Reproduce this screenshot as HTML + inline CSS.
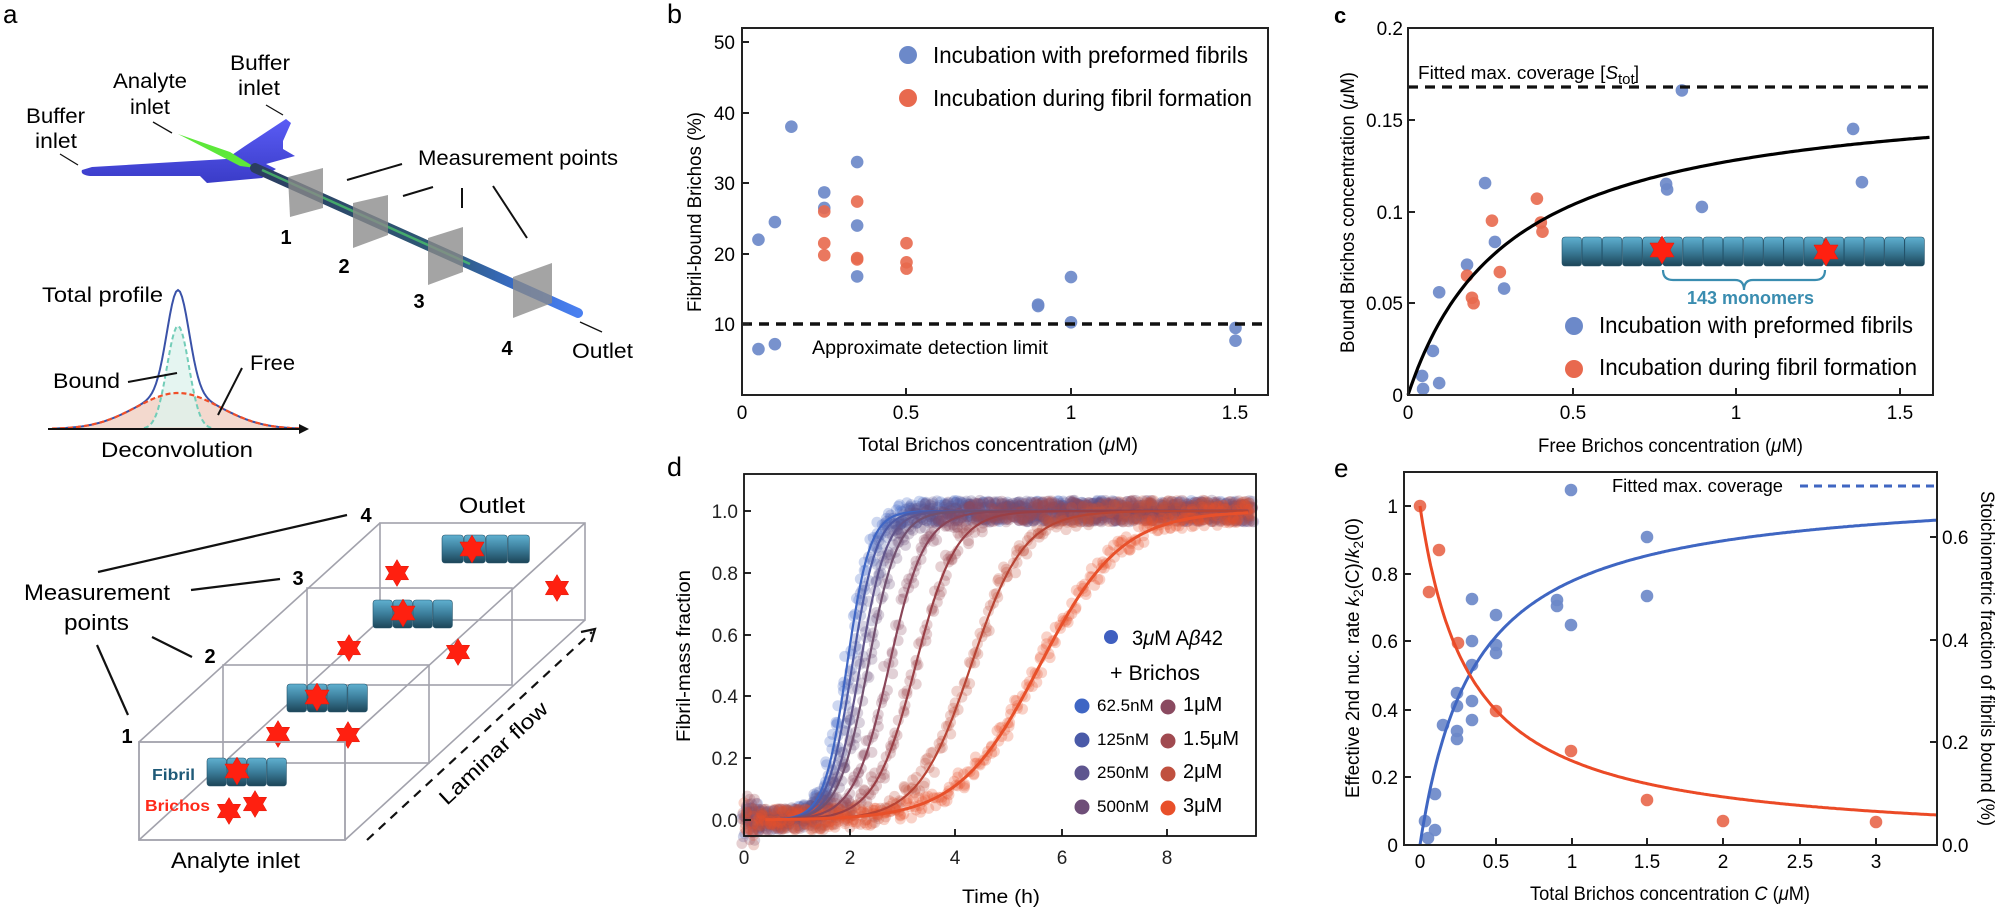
<!DOCTYPE html>
<html><head><meta charset="utf-8"><style>
html,body{margin:0;padding:0;background:#fff;}
svg{display:block;font-family:"Liberation Sans",Arial,sans-serif;}
</style></head><body>
<svg id="s" width="2000" height="913" viewBox="0 0 2000 913" xmlns="http://www.w3.org/2000/svg">
<defs>
<linearGradient id="fib" x1="0" y1="0" x2="0" y2="1"><stop offset="0" stop-color="#5fb0d0"/><stop offset="0.5" stop-color="#3b7d9a"/><stop offset="1" stop-color="#1d4558"/></linearGradient>
<linearGradient id="chip" x1="0" y1="0" x2="0" y2="1"><stop offset="0" stop-color="#5a5cf5"/><stop offset="1" stop-color="#3a3cc8"/></linearGradient>
<linearGradient id="tube" x1="0" y1="0" x2="1" y2="0"><stop offset="0" stop-color="#2b3d60"/><stop offset="0.6" stop-color="#2f5a78"/><stop offset="0.85" stop-color="#3a70d8"/><stop offset="1" stop-color="#4a80f0"/></linearGradient>
</defs>
<rect width="2000" height="913" fill="#fff"/>

<!-- ===== Panel a ===== -->
<text x="3" y="23" font-size="26">a</text>
<path d="M82,170 Q80,175 90,176 L200,176 L207,183 L262,178 L276,169 L266,164 L295,156 L283,149 L283,141 L291,123 L286,119 L245,146 L226,159 L92,167 Z" fill="url(#chip)"/>
<path d="M178,134 L230,152 L256,168 L240,166 Z" fill="#5de83a"/>
<line x1="255" y1="168" x2="578" y2="313" stroke="url(#tube)" stroke-width="10" stroke-linecap="round"/>
<line x1="262" y1="170" x2="470" y2="264" stroke="#4fd06a" stroke-width="2.5" opacity="0.7"/>
<g fill="#8a8a8a" opacity="0.78">
<polygon points="288,177 323,168 323,208 290,217"/>
<polygon points="353,203 388,195 388,235 353,248"/>
<polygon points="428,238 463,227 463,272 428,285"/>
<polygon points="513,277 552,263 552,303 513,318"/>
</g>
<g font-weight="bold" font-size="20" text-anchor="middle">
<text x="286" y="244">1</text><text x="344" y="273">2</text><text x="419" y="308">3</text><text x="507" y="355">4</text>
</g>
<g font-size="21">
<text x="26" y="123" textLength="59" lengthAdjust="spacingAndGlyphs">Buffer</text>
<text x="35" y="148" textLength="42" lengthAdjust="spacingAndGlyphs">inlet</text>
<text x="113" y="88" textLength="74" lengthAdjust="spacingAndGlyphs">Analyte</text>
<text x="130" y="114" textLength="40" lengthAdjust="spacingAndGlyphs">inlet</text>
<text x="230" y="70" textLength="60" lengthAdjust="spacingAndGlyphs">Buffer</text>
<text x="238" y="95" textLength="42" lengthAdjust="spacingAndGlyphs">inlet</text>
<text x="418" y="165" textLength="200" lengthAdjust="spacingAndGlyphs">Measurement points</text>
<text x="572" y="358" textLength="61" lengthAdjust="spacingAndGlyphs">Outlet</text>
</g>
<g stroke="#111" stroke-width="1.3" fill="none">
<line x1="60" y1="154" x2="78" y2="165"/><line x1="153" y1="122" x2="172" y2="133"/><line x1="266" y1="105" x2="283" y2="115"/><line x1="580" y1="322" x2="602" y2="332"/>
</g>
<g stroke="#111" stroke-width="2" fill="none">
<line x1="347" y1="180" x2="402" y2="164"/><line x1="403" y1="196" x2="433" y2="187"/><line x1="462" y1="208" x2="462" y2="188"/><line x1="493" y1="186" x2="527" y2="238"/>
</g>
<path id="freeFill" fill="#f2d5c9" opacity="0.9"/>
<path id="boundFill" fill="#dff3ee" opacity="0.8"/>
<path id="boundLine" fill="none" stroke="#72cdb8" stroke-width="2" stroke-dasharray="5,3"/>
<path id="totLine" fill="none" stroke="#3a52a8" stroke-width="2"/>
<path id="freeLine" fill="none" stroke="#f04e28" stroke-width="2.2" stroke-dasharray="5,3"/>
<line x1="48" y1="429" x2="302" y2="429" stroke="#111" stroke-width="2"/>
<polygon points="309,429 299,424 299,434" fill="#111"/>
<g font-size="21">
<text x="42" y="302" textLength="121" lengthAdjust="spacingAndGlyphs">Total profile</text>
<text x="53" y="388" textLength="67" lengthAdjust="spacingAndGlyphs">Bound</text>
<text x="250" y="370" textLength="45" lengthAdjust="spacingAndGlyphs">Free</text>
<text x="101" y="457" textLength="152" lengthAdjust="spacingAndGlyphs">Deconvolution</text>
</g>
<line x1="128" y1="382" x2="177" y2="373" stroke="#111" stroke-width="2"/>
<line x1="242" y1="368" x2="218" y2="415" stroke="#111" stroke-width="2"/>
<g stroke="#a2a2ac" stroke-width="1.6" fill="none">
<line x1="139" y1="742" x2="380" y2="523"/><line x1="345" y1="742" x2="585" y2="523"/>
<line x1="139" y1="840" x2="380" y2="620"/><line x1="345" y1="840" x2="585" y2="620"/>
<rect x="380" y="523" width="205" height="97"/>
<rect x="307" y="588" width="205" height="97"/>
<rect x="223" y="665" width="206" height="98"/>
</g>
<g id="fibs"></g>
<g id="stars"></g>
<rect x="139" y="742" width="206" height="98" stroke="#a2a2ac" stroke-width="1.8" fill="none"/>
<line x1="367" y1="840" x2="592" y2="632" stroke="#111" stroke-width="2.2" stroke-dasharray="9,7"/>
<polyline points="581,632 595,629 591,642" fill="none" stroke="#111" stroke-width="2.2"/>
<text transform="translate(447,806) rotate(-43)" font-size="21" textLength="140" lengthAdjust="spacingAndGlyphs">Laminar flow</text>
<text x="152" y="780" font-size="16" font-weight="bold" fill="#1f5a78" textLength="43" lengthAdjust="spacingAndGlyphs">Fibril</text>
<text x="145" y="811" font-size="16" font-weight="bold" fill="#ff2a1a" textLength="65" lengthAdjust="spacingAndGlyphs">Brichos</text>
<g font-size="22">
<text x="171" y="868" textLength="129" lengthAdjust="spacingAndGlyphs">Analyte inlet</text>
<text x="24" y="600" textLength="146" lengthAdjust="spacingAndGlyphs">Measurement</text>
<text x="64" y="630" textLength="65" lengthAdjust="spacingAndGlyphs">points</text>
<text x="459" y="513" textLength="66" lengthAdjust="spacingAndGlyphs">Outlet</text>
</g>
<g font-weight="bold" font-size="20" text-anchor="middle">
<text x="366" y="522">4</text><text x="298" y="585">3</text><text x="210" y="663">2</text><text x="127" y="743">1</text>
</g>
<g stroke="#111" stroke-width="2.2">
<line x1="98" y1="572" x2="347" y2="515"/><line x1="191" y1="590" x2="280" y2="579"/><line x1="152" y1="637" x2="192" y2="657"/><line x1="97" y1="645" x2="128" y2="715"/>
</g>

<!-- ===== Panel b ===== -->
<text x="667" y="23" font-size="27">b</text>
<g id="bpts"></g>
<line x1="742" y1="324" x2="1268" y2="324" stroke="#111" stroke-width="3.5" stroke-dasharray="10,7"/>
<rect x="742" y="28" width="526" height="367" fill="none" stroke="#222" stroke-width="2"/>
<g stroke="#222" stroke-width="2">
<line x1="742" y1="42" x2="749" y2="42"/><line x1="742" y1="113" x2="749" y2="113"/><line x1="742" y1="183" x2="749" y2="183"/><line x1="742" y1="254" x2="749" y2="254"/><line x1="742" y1="324" x2="749" y2="324"/>
<line x1="906" y1="395" x2="906" y2="388"/><line x1="1071" y1="395" x2="1071" y2="388"/><line x1="1235" y1="395" x2="1235" y2="388"/>
</g>
<g font-size="19" text-anchor="end">
<text x="735" y="49">50</text><text x="735" y="120">40</text><text x="735" y="190">30</text><text x="735" y="261">20</text><text x="735" y="331">10</text>
</g>
<g font-size="19" text-anchor="middle">
<text x="742" y="419">0</text><text x="906" y="419">0.5</text><text x="1071" y="419">1</text><text x="1235" y="419">1.5</text>
</g>
<text x="812" y="354" font-size="19" textLength="236" lengthAdjust="spacingAndGlyphs">Approximate detection limit</text>
<text x="858" y="451" font-size="19" textLength="280" lengthAdjust="spacingAndGlyphs">Total Brichos concentration (<tspan font-style="italic">μ</tspan>M)</text>
<text transform="translate(701,312) rotate(-90)" font-size="19" textLength="200" lengthAdjust="spacingAndGlyphs">Fibril-bound Brichos (%)</text>
<circle cx="908" cy="55" r="9" fill="#6c89c9"/><circle cx="908" cy="98" r="9" fill="#e8694e"/>
<text x="933" y="63" font-size="23" textLength="315" lengthAdjust="spacingAndGlyphs">Incubation with preformed fibrils</text>
<text x="933" y="106" font-size="23" textLength="319" lengthAdjust="spacingAndGlyphs">Incubation during fibril formation</text>

<!-- ===== Panel c ===== -->
<text x="1334" y="23" font-size="22" font-weight="bold">c</text>
<g id="cpts"></g>
<path id="ccurve" fill="none" stroke="#000" stroke-width="3.2"/>
<line x1="1408" y1="87" x2="1933" y2="87" stroke="#111" stroke-width="3.2" stroke-dasharray="10,7"/>
<text x="1418" y="79" font-size="18" textLength="200" lengthAdjust="spacingAndGlyphs">Fitted max. coverage [<tspan font-style="italic">S</tspan></text>
<text x="1618" y="84" font-size="15">tot</text><text x="1634" y="79" font-size="18">]</text>
<rect x="1408" y="28" width="525" height="367" fill="none" stroke="#222" stroke-width="2"/>
<g stroke="#222" stroke-width="2">
<line x1="1408" y1="120" x2="1415" y2="120"/><line x1="1408" y1="212" x2="1415" y2="212"/><line x1="1408" y1="303" x2="1415" y2="303"/>
<line x1="1573" y1="395" x2="1573" y2="388"/><line x1="1736" y1="395" x2="1736" y2="388"/><line x1="1900" y1="395" x2="1900" y2="388"/>
</g>
<g font-size="19" text-anchor="end">
<text x="1403" y="35">0.2</text><text x="1403" y="127">0.15</text><text x="1403" y="219">0.1</text><text x="1403" y="310">0.05</text><text x="1403" y="402">0</text>
</g>
<g font-size="19" text-anchor="middle">
<text x="1408" y="419">0</text><text x="1573" y="419">0.5</text><text x="1736" y="419">1</text><text x="1900" y="419">1.5</text>
</g>
<text x="1538" y="452" font-size="19" textLength="265" lengthAdjust="spacingAndGlyphs">Free Brichos concentration (<tspan font-style="italic">μ</tspan>M)</text>
<text transform="translate(1354,353) rotate(-90)" font-size="19" textLength="281" lengthAdjust="spacingAndGlyphs">Bound Brichos concentration (<tspan font-style="italic">μ</tspan>M)</text>
<g id="cfib"></g>
<path d="M1663,270 Q1663,280 1673,280 L1735,280 Q1744,280 1744,290 Q1744,280 1753,280 L1815,280 Q1825,280 1825,270" fill="none" stroke="#3a8db0" stroke-width="2.2"/>
<text x="1687" y="304" font-size="18" font-weight="bold" fill="#3a8db0" textLength="127" lengthAdjust="spacingAndGlyphs">143 monomers</text>
<circle cx="1574" cy="326" r="9" fill="#6c89c9"/><circle cx="1574" cy="369" r="9" fill="#e8694e"/>
<text x="1599" y="333" font-size="23" textLength="314" lengthAdjust="spacingAndGlyphs">Incubation with preformed fibrils</text>
<text x="1599" y="375" font-size="23" textLength="318" lengthAdjust="spacingAndGlyphs">Incubation during fibril formation</text>

<!-- ===== Panel d ===== -->
<text x="667" y="476" font-size="27">d</text>
<g id="dpts"></g>
<g id="dlines"></g>
<rect x="744" y="474" width="512" height="362" fill="none" stroke="#111" stroke-width="1.8"/>
<g stroke="#111" stroke-width="1.8">
<line x1="744" y1="511" x2="751" y2="511"/><line x1="744" y1="573" x2="751" y2="573"/><line x1="744" y1="635" x2="751" y2="635"/><line x1="744" y1="696" x2="751" y2="696"/><line x1="744" y1="758" x2="751" y2="758"/><line x1="744" y1="820" x2="751" y2="820"/>
<line x1="850" y1="836" x2="850" y2="829"/><line x1="955" y1="836" x2="955" y2="829"/><line x1="1062" y1="836" x2="1062" y2="829"/><line x1="1167" y1="836" x2="1167" y2="829"/>
</g>
<g font-size="19" text-anchor="end" fill="#222">
<text x="738" y="518">1.0</text><text x="738" y="580">0.8</text><text x="738" y="642">0.6</text><text x="738" y="703">0.4</text><text x="738" y="765">0.2</text><text x="738" y="827">0.0</text>
</g>
<g font-size="19" text-anchor="middle" fill="#222">
<text x="744" y="864">0</text><text x="850" y="864">2</text><text x="955" y="864">4</text><text x="1062" y="864">6</text><text x="1167" y="864">8</text>
</g>
<text x="962" y="903" font-size="19" textLength="78" lengthAdjust="spacingAndGlyphs">Time (h)</text>
<text transform="translate(690,742) rotate(-90)" font-size="19" textLength="172" lengthAdjust="spacingAndGlyphs">Fibril-mass fraction</text>
<circle cx="1111" cy="637" r="7" fill="#3f5fc0"/>
<text x="1132" y="645" font-size="21" textLength="91" lengthAdjust="spacingAndGlyphs">3<tspan font-style="italic">μ</tspan>M A<tspan font-style="italic">β</tspan>42</text>
<text x="1110" y="680" font-size="21" textLength="90" lengthAdjust="spacingAndGlyphs">+ Brichos</text>
<g id="dleg" font-size="17"></g>

<!-- ===== Panel e ===== -->
<text x="1334" y="477" font-size="26">e</text>
<g id="epts"></g>
<path id="eblue" fill="none" stroke="#3f66c2" stroke-width="3"/>
<path id="ered" fill="none" stroke="#eb4a26" stroke-width="3"/>
<text x="1612" y="492" font-size="18" textLength="171" lengthAdjust="spacingAndGlyphs">Fitted max. coverage</text>
<line x1="1800" y1="486" x2="1937" y2="486" stroke="#3f66c2" stroke-width="3" stroke-dasharray="8,6"/>
<rect x="1404" y="472" width="533" height="373" fill="none" stroke="#222" stroke-width="2"/>
<g stroke="#222" stroke-width="2">
<line x1="1404" y1="506" x2="1411" y2="506"/><line x1="1404" y1="574" x2="1411" y2="574"/><line x1="1404" y1="641" x2="1411" y2="641"/><line x1="1404" y1="710" x2="1411" y2="710"/><line x1="1404" y1="777" x2="1411" y2="777"/>
<line x1="1496" y1="845" x2="1496" y2="838"/><line x1="1572" y1="845" x2="1572" y2="838"/><line x1="1647" y1="845" x2="1647" y2="838"/><line x1="1723" y1="845" x2="1723" y2="838"/><line x1="1800" y1="845" x2="1800" y2="838"/><line x1="1876" y1="845" x2="1876" y2="838"/>
<line x1="1930" y1="742" x2="1937" y2="742"/><line x1="1930" y1="640" x2="1937" y2="640"/><line x1="1930" y1="537" x2="1937" y2="537"/>
</g>
<g font-size="19" text-anchor="end">
<text x="1398" y="513">1</text><text x="1398" y="581">0.8</text><text x="1398" y="648">0.6</text><text x="1398" y="717">0.4</text><text x="1398" y="784">0.2</text><text x="1398" y="852">0</text>
</g>
<g font-size="19" text-anchor="middle">
<text x="1420" y="868">0</text><text x="1496" y="868">0.5</text><text x="1572" y="868">1</text><text x="1647" y="868">1.5</text><text x="1723" y="868">2</text><text x="1800" y="868">2.5</text><text x="1876" y="868">3</text>
</g>
<g font-size="19">
<text x="1942" y="852">0.0</text><text x="1942" y="749">0.2</text><text x="1942" y="647">0.4</text><text x="1942" y="544">0.6</text>
</g>
<text x="1530" y="900" font-size="19" textLength="280" lengthAdjust="spacingAndGlyphs">Total Brichos concentration <tspan font-style="italic">C</tspan> (<tspan font-style="italic">μ</tspan>M)</text>
<text transform="translate(1359,798) rotate(-90)" font-size="19" textLength="280" lengthAdjust="spacingAndGlyphs">Effective 2nd nuc. rate <tspan font-style="italic">k</tspan><tspan font-size="14" dy="4">2</tspan><tspan dy="-4">(C)/</tspan><tspan font-style="italic">k</tspan><tspan font-size="14" dy="4">2</tspan><tspan dy="-4">(0)</tspan></text>
<text transform="translate(1981,491) rotate(90)" font-size="19" textLength="335" lengthAdjust="spacingAndGlyphs">Stoichiometric fraction of fibrils bound (%)</text>
</svg>
<script>
(function(){
var NS="http://www.w3.org/2000/svg";
function el(p,t,a){var e=document.createElementNS(NS,t);for(var k in a)e.setAttribute(k,a[k]);p.appendChild(e);return e;}
function $(i){return document.getElementById(i);}
var bx=178,base=429,free=[],bound=[],tot=[];
for(var x=52;x<=300;x+=2){var f=36*Math.exp(-Math.pow((x-bx)/42,2)/2),b=103*Math.exp(-Math.pow((x-bx)/11,2)/2);free.push([x,base-f]);bound.push([x,base-b]);tot.push([x,base-f-b]);}
function P(a){return "M"+a.map(function(p){return p[0].toFixed(1)+","+p[1].toFixed(1)}).join(" L");}
$("freeFill").setAttribute("d",P(free)+" L300,429 L52,429 Z");
$("boundFill").setAttribute("d",P(bound.filter(function(p){return p[1]<428}))+" Z");
$("boundLine").setAttribute("d",P(bound.filter(function(p){return p[1]<428.5})));
$("totLine").setAttribute("d",P(tot));
$("freeLine").setAttribute("d",P(free));
function star(g,cx,cy,R){var r=R*0.58,pts=[];for(var i=0;i<12;i++){var a=-Math.PI/2+i*Math.PI/6,rr=i%2?r:R;pts.push((cx+rr*Math.cos(a)).toFixed(1)+","+(cy+rr*Math.sin(a)).toFixed(1));}el(g,"polygon",{points:pts.join(" "),fill:"#ff2010",stroke:"#e01808","stroke-width":"0.5"});}
function fib(g,x0,y0,x1,h,n){var w=(x1-x0)/n;for(var i=0;i<n;i++)el(g,"rect",{x:(x0+i*w).toFixed(1),y:y0,width:(w-0.6).toFixed(1),height:h,rx:3,fill:"url(#fib)",stroke:"#24536a","stroke-width":"0.6"});}
var fg=$("fibs");fib(fg,207,758,287,28,4);fib(fg,287,684,368,28,4);fib(fg,373,600,453,28,4);fib(fg,442,535,530,28,4);
var sg=$("stars");
[[237,771],[317,697],[403,613],[472,549]].forEach(function(p){star(sg,p[0],p[1],14);});
[[229,811],[255,804],[278,734],[348,735],[349,648],[458,652],[397,573],[557,588]].forEach(function(p){star(sg,p[0],p[1],13.5);});
var cf=$("cfib");fib(cf,1562,237,1925,29,18);star(cf,1662,250,14);star(cf,1826,252,14);
var B="#6c89c9",R="#e8694e";
function bp(x,y){return [742+x*329,395-y*7.06];}
var bb=[[0.05,22],[0.1,24.5],[0.15,38],[0.25,28.7],[0.25,26.5],[0.35,33],[0.35,24],[0.35,16.8],[0.05,6.5],[0.1,7.2],[0.9,12.8],[0.9,12.6],[1,16.7],[1,10.3],[1.5,9.5],[1.5,7.7]];
var br=[[0.25,26],[0.25,21.5],[0.25,19.8],[0.35,27.4],[0.35,19.4],[0.35,19.2],[0.5,21.5],[0.5,18.8],[0.5,17.9]];
var g=$("bpts");
bb.forEach(function(d){var p=bp(d[0],d[1]);el(g,"circle",{cx:p[0],cy:p[1],r:6.3,fill:B,opacity:0.92});});
br.forEach(function(d){var p=bp(d[0],d[1]);el(g,"circle",{cx:p[0],cy:p[1],r:6.3,fill:R,opacity:0.9});});
var cb=[[0.043,0.0104],[0.046,0.0033],[0.076,0.024],[0.095,0.0065],[0.095,0.056],[0.18,0.071],[0.235,0.1155],[0.265,0.0834],[0.293,0.058],[0.835,0.166],[0.787,0.115],[0.79,0.112],[0.896,0.1025],[1.357,0.145],[1.384,0.116]];
var cr=[[0.18,0.065],[0.195,0.053],[0.2,0.05],[0.256,0.095],[0.28,0.067],[0.393,0.107],[0.405,0.094],[0.41,0.089]];
g=$("cpts");
cb.forEach(function(d){el(g,"circle",{cx:1408+d[0]*328,cy:395-d[1]*1835,r:6.3,fill:B,opacity:0.92});});
cr.forEach(function(d){el(g,"circle",{cx:1408+d[0]*328,cy:395-d[1]*1835,r:6.3,fill:R,opacity:0.9});});
var cc=[];for(var v=0;v<=1.6;v+=0.01){cc.push([1408+v*328,395-1835*0.168*v/(0.312+v)]);}
$("ccurve").setAttribute("d",P(cc));
var cols=["#3f66c4","#4a5aa8","#5e558f","#6e4e78","#8a4a60","#a04a50","#c0503f","#e8502a"];
var lcols=["#3f66c4","#4d5aa6","#61558c","#72506f","#8a4558","#9a3f45","#b84434","#e8502a"];
var pars=[[1.95,4.6],[2.05,4.3],[2.2,4.0],[2.35,3.6],[2.75,3.0],[3.25,2.6],[4.3,2.0],[5.6,1.3]];
var dp=$("dpts"),dl=$("dlines");
var seed=7;function rnd(){seed=(seed*16807)%2147483647;return seed/2147483647;}
function tx(t){return 744+t*52.8;}function ty(v){return 820-v*309;}
for(var c=0;c<8;c++){var t50=pars[c][0],k=pars[c][1];
 for(var t=0;t<=9.6;t+=0.03){var v=1/(1+Math.exp(-k*(t-t50)));var n=(rnd()-0.5)*0.07+(t<0.25?(rnd()-0.5)*0.12:0);
  el(dp,"circle",{cx:(tx(t)+(rnd()-0.5)*6).toFixed(1),cy:ty(v+n).toFixed(1),r:5.5,fill:cols[c],"fill-opacity":0.26});}
}
for(c=0;c<8;c++){var a=[];t50=pars[c][0];k=pars[c][1];for(t=0.4;t<=9.6;t+=0.05){a.push([tx(t),ty(1/(1+Math.exp(-k*(t-t50))))]);}
 el(dl,"path",{d:P(a),fill:"none",stroke:lcols[c],"stroke-width":c==7?3:2.2});}
var lg=$("dleg"),labs=[["62.5nM","1μM"],["125nM","1.5μM"],["250nM","2μM"],["500nM","3μM"]],ys=[705,739,772,806];
for(var i=0;i<4;i++){el(lg,"circle",{cx:1082,cy:ys[i]+1,r:7.5,fill:cols[i]});el(lg,"circle",{cx:1168,cy:ys[i]+2,r:7.5,fill:cols[i+4]});
 var t1=el(lg,"text",{x:1097,y:ys[i]+6});t1.textContent=labs[i][0];var t2=el(lg,"text",{x:1183,y:ys[i]+6,"font-size":"20"});t2.textContent=labs[i][1];}
var ep=$("epts");
[[1425,821],[1428,838],[1435,830],[1435,794],[1443,725],[1457,693],[1457,706],[1457,731],[1457,739],[1472,599],[1472,641],[1472,665],[1472,701],[1472,720],[1496,615],[1496,645],[1496,653],[1571,490],[1647,537],[1557,600],[1557,606],[1571,625],[1647,596]].forEach(function(p){el(ep,"circle",{cx:p[0],cy:p[1],r:6.3,fill:B,opacity:0.92});});
[[1420,506],[1429,592],[1439,550],[1458,643],[1496,711],[1571,751],[1647,800],[1723,821],[1876,822]].forEach(function(p){el(ep,"circle",{cx:p[0],cy:p[1],r:6.3,fill:R,opacity:0.92});});
var eb=[],er=[];for(v=0;v<=3.4;v+=0.01){eb.push([1420+152*v,845-513.5*0.7*v/(0.362+v)]);er.push([1420+152*v,845-339*0.33/(0.33+v)]);}
$("eblue").setAttribute("d",P(eb));$("ered").setAttribute("d",P(er));
})();
</script>
</body></html>
